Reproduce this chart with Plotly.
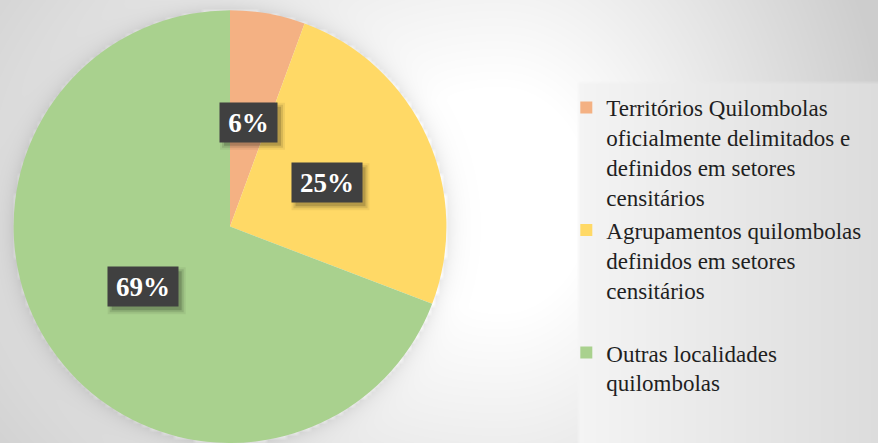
import numpy as np
import plotly.graph_objects as go

# ---- data ----
categories = [
    "Territórios Quilombolas<br>oficialmente delimitados e<br>definidos em setores<br>censitários",
    "Agrupamentos quilombolas<br>definidos em setores<br>censitários<br> ",
    "Outras localidades<br>quilombolas",
]
values = [5.6, 25.2, 69.2]
colors = ["#F4B183", "#FFD966", "#A9D18E"]

W, H = 878, 443
SERIF = "Times New Roman, Liberation Serif, DejaVu Serif, serif"

# ---- decorative background (radial gradient + legend panel + pie shadow) ----
xs = np.arange(0, W + 4, 4)
ys = np.arange(0, H + 4, 4)
X, Y = np.meshgrid(xs, ys)
cx0, cy0 = 500.0, 200.0
dx = np.where(X < cx0, (X - cx0) * 0.75, (X - cx0) * 1.25)
dy = Y - cy0
d = np.sqrt(dx ** 2 + dy ** 2)
g = 255 - 50 * np.clip((d - 110) / 380, 0, 1)
panel = (X >= 577) & (Y >= 82)
g = np.where(panel, 244 - (X - 577) / 300 * 24, g)

dom_x = [12 / W, 448 / W]
dom_y = [0.0, 0.977]
pw = (dom_x[1] - dom_x[0]) * W
ph = (dom_y[1] - dom_y[0]) * H
R = min(pw, ph) / 2
pcx = (dom_x[0] + dom_x[1]) / 2 * W
pcy = H - (dom_y[0] + dom_y[1]) / 2 * H
dp = np.sqrt((X - pcx) ** 2 + (Y - pcy) ** 2) - R
g = g - np.where(dp > 0, 22 * np.exp(-dp / 9), 0)

fig = go.Figure()
fig.add_trace(go.Heatmap(
    x=xs, y=ys, z=g, zmin=0, zmax=255, zsmooth="best",
    colorscale=[[0, "rgb(0,0,0)"], [1, "rgb(255,255,255)"]],
    showscale=False, hoverinfo="skip", showlegend=False,
))

fig.add_trace(go.Pie(
    labels=categories, values=values, sort=False, direction="clockwise",
    rotation=0, marker=dict(colors=colors, line=dict(width=0)),
    textinfo="none", domain=dict(x=dom_x, y=dom_y), showlegend=True,
))

# label boxes positioned from the values
total = sum(values)
cum = 0.0
annotations, shapes = [], []
for v in values:
    mid = (cum + v / 2) / total * 2 * np.pi
    cum += v
    r = 0.49 * R
    px = pcx + r * np.sin(mid)
    py = pcy - r * np.cos(mid)
    pct = round(v / total * 100)
    txt = f"{pct}%"
    bw = 57 if pct < 10 else 70
    bh = 39
    ax, ay = px / W, 1 - py / H
    for grow, a in [(4, 0.06), (2, 0.10), (0, 0.16)]:
        shapes.append(dict(
            type="rect", xref="paper", yref="paper", layer="above",
            xsizemode="pixel", ysizemode="pixel", xanchor=ax, yanchor=ay,
            x0=-bw / 2 + 4 - grow, x1=bw / 2 + 4 + grow,
            y0=-bh / 2 - 4 - grow, y1=bh / 2 - 4 + grow,
            fillcolor=f"rgba(0,0,0,{a})", line=dict(width=0),
        ))
    annotations.append(dict(
        text=f"<b>{txt}</b>", x=ax, y=ay, xref="paper", yref="paper",
        xanchor="center", yanchor="middle", showarrow=False,
        width=bw, height=bh, borderpad=0, bgcolor="#404040",
        font=dict(family=SERIF, size=27, color="white"),
    ))

fig.update_layout(
    width=W, height=H,
    margin=dict(l=0, r=0, t=0, b=0),
    paper_bgcolor="white", plot_bgcolor="white",
    xaxis=dict(range=[0, W], visible=False, domain=[0, 1], fixedrange=True),
    yaxis=dict(range=[H, 0], visible=False, domain=[0, 1], fixedrange=True),
    legend=dict(x=0.645, y=0.806, xanchor="left", yanchor="top",
                valign="top", bgcolor="rgba(0,0,0,0)",
                font=dict(family=SERIF, size=23, color="#1f1f1f")),
    annotations=annotations,
    shapes=shapes,
)

fig.write_html("out.html", post_script="document.body.style.margin='0px';",
               config={"displayModeBar": False})
